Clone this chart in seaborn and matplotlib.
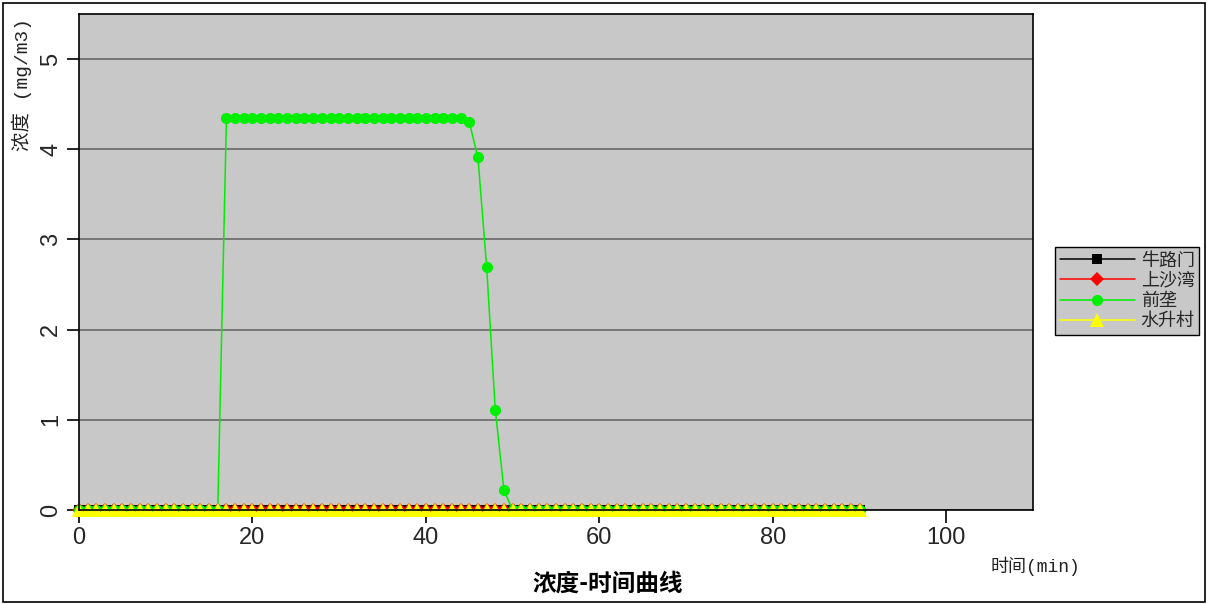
import matplotlib
matplotlib.use("Agg")
import matplotlib.pyplot as plt
import seaborn as sns
import numpy as np
from matplotlib.patches import Rectangle

# ---- data ----
time_min = list(range(0, 91))
series_names = ["牛路门", "上沙湾", "前垄", "水升村"]
niulumen = [0.0] * 91
shangshawan = [0.0] * 91
qianlong = ([0.0] * 17 +
            [4.35, 4.35, 4.35, 4.35, 4.35, 4.35, 4.35, 4.35, 4.35, 4.35,
             4.35, 4.35, 4.35, 4.35, 4.35, 4.35, 4.35, 4.35, 4.35, 4.35,
             4.35, 4.35, 4.35, 4.35, 4.35, 4.35, 4.35, 4.35,
             4.30, 3.91, 2.70, 1.11, 0.22] +
            [0.0] * 41)
shuishengcun = [0.0] * 91
y_ticks = [0, 1, 2, 3, 4, 5]
x_ticks = [0, 20, 40, 60, 80, 100]

sns.set_theme(style="white")
plt.rcParams['font.family'] = ['Liberation Sans', 'Noto Sans CJK SC', 'DejaVu Sans']
cjk = ['Noto Sans CJK SC', 'DejaVu Sans']
mono_cjk = ['Liberation Mono', 'Noto Sans CJK SC', 'DejaVu Sans']

fig = plt.figure(figsize=(12.09, 6.04), dpi=100)
fig.patch.set_facecolor("white")
ax = fig.add_axes([79/1209, 1-510/604, (1033-79)/1209, (510-14)/604])
ax.set_facecolor("#c8c8c8")

styles = [
    (niulumen, "black", "s", 7),
    (shangshawan, "#ff0000", "D", 7),
    (qianlong, "#00ee00", "o", 8),
    (shuishengcun, "#ffff00", "^", 9.5),
]
for name, (vals, col, mk, ms) in zip(series_names, styles):
    sns.lineplot(x=time_min, y=vals, ax=ax, color=col, marker=mk, markersize=ms,
                 markeredgewidth=0, linewidth=1.1, label=name, clip_on=False)

ax.set_xlim(0, 110)
ax.set_ylim(0, 5.5)
ax.set_xticks(x_ticks)
ax.set_yticks(y_ticks)
ax.set_xticklabels([str(v) for v in x_ticks], fontsize=17)
ax.set_yticklabels([str(v) for v in y_ticks], fontsize=17, rotation=90, va="center")
ax.tick_params(axis="both", direction="out", length=9, width=1.2, color="black",
               bottom=True, left=True, pad=3)
ax.yaxis.grid(True, color="#707070", linewidth=1.3)
ax.xaxis.grid(False)
ax.set_axisbelow(True)
for s in ax.spines.values():
    s.set_color("black")
    s.set_linewidth(1.2)
ax.set_xlabel("")
ax.set_ylabel("")

leg = ax.get_legend()
if leg is not None:
    leg.remove()
handles, labels = ax.get_legend_handles_labels()
lg = fig.legend(handles, labels, loc="upper left",
                bbox_to_anchor=(1055/1209, 1-247/604),
                prop={'family': cjk, 'size': 13}, frameon=True, fancybox=False,
                handlelength=4.2, handletextpad=0.3, labelspacing=0.12,
                borderpad=0.25, borderaxespad=0)
lg.get_frame().set_facecolor("#c8c8c8")
lg.get_frame().set_edgecolor("black")
lg.get_frame().set_linewidth(1.0)
lg.get_frame().set_alpha(1)

fig.text(22/1209, 1-18/604, "浓度 (mg/m3)", rotation=90, ha="center", va="top",
         fontsize=14, family=mono_cjk, color="#222222")
fig.text(1035/1209, 1-566/604, "时间(min)", ha="center", va="center",
         fontsize=13, family=mono_cjk, color="#222222")
fig.text(608/1209, 1-584/604, "浓度-时间曲线", ha="center", va="center",
         fontsize=17, fontweight="bold", family=cjk, color="black")

fig.patches.append(Rectangle((3/1209, 2/604), 1-7/1209, 1-5/604,
                             transform=fig.transFigure, fill=False,
                             edgecolor="black", linewidth=1.2))

fig.savefig("out.png", dpi=100)
